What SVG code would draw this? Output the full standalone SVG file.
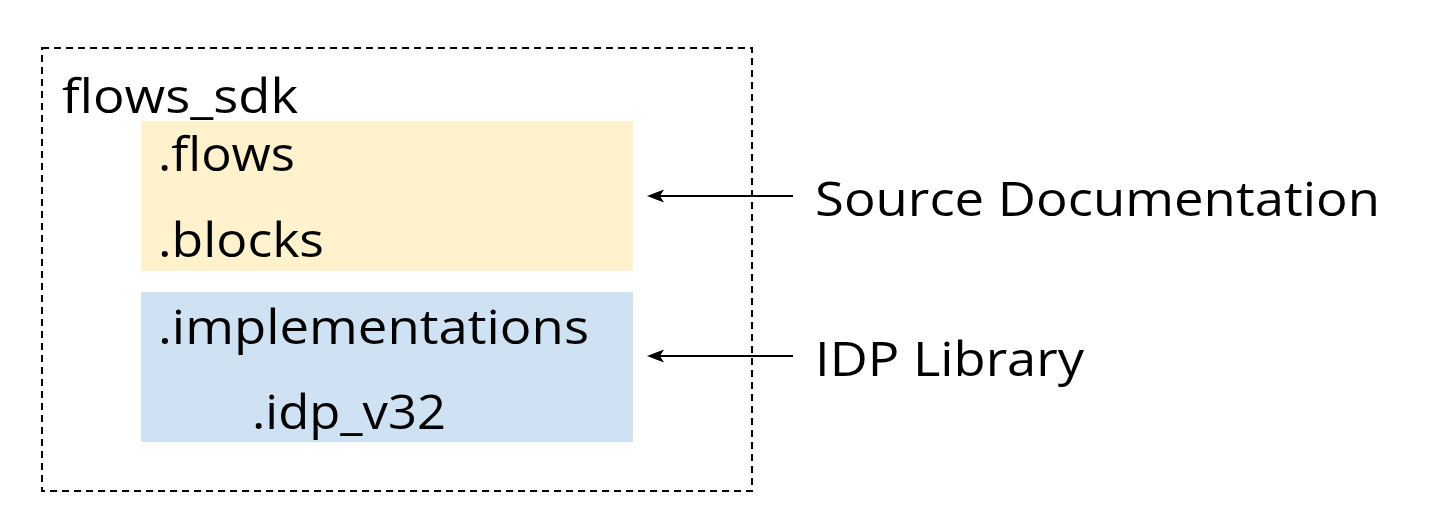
<svg xmlns="http://www.w3.org/2000/svg" width="1444" height="530" viewBox="0 0 1444 530">
  <style>
    .t { font-family: "Open Sans", "Liberation Sans", sans-serif; font-size: 47px; fill: #000; }
    .conn { stroke: #000; stroke-width: 2; fill: none; }
    .head { fill: #000; stroke: none; }
  </style>
  <rect width="1444" height="530" fill="#fff"/>
  <g id="container">
    <rect x="42" y="48" width="710" height="443" fill="none" stroke="#000" stroke-width="2" stroke-dasharray="7,5"/>
    <text class="t" x="62" y="113" textLength="236" lengthAdjust="spacingAndGlyphs">flows_sdk</text>
  </g>
  <g id="source-block">
    <rect x="141" y="121" width="492" height="150" fill="#fff2cc"/>
    <text class="t" x="158" y="171" textLength="137" lengthAdjust="spacingAndGlyphs">.flows</text>
    <text class="t" x="158" y="257" textLength="166" lengthAdjust="spacingAndGlyphs">.blocks</text>
  </g>
  <g id="idp-block">
    <rect x="141" y="292" width="492" height="150" fill="#cfe2f3"/>
    <text class="t" x="158" y="344" textLength="431" lengthAdjust="spacingAndGlyphs">.implementations</text>
    <text class="t" x="252" y="429" textLength="194" lengthAdjust="spacingAndGlyphs">.idp_v32</text>
  </g>
  <g id="label-source">
    <text class="t" x="815" y="216" textLength="565" lengthAdjust="spacingAndGlyphs">Source Documentation</text>
  </g>
  <g id="label-idp">
    <text class="t" x="815" y="376" textLength="269" lengthAdjust="spacingAndGlyphs">IDP Library</text>
  </g>
  <g id="connectors">
    <line class="conn" x1="793" y1="196" x2="660" y2="196"/>
    <path class="head" d="M647,196 L664,189.5 L660,196 L664,202.5 Z"/>
    <line class="conn" x1="793" y1="356" x2="660" y2="356"/>
    <path class="head" d="M647,356 L664,349.5 L660,356 L664,362.5 Z"/>
  </g>
</svg>
